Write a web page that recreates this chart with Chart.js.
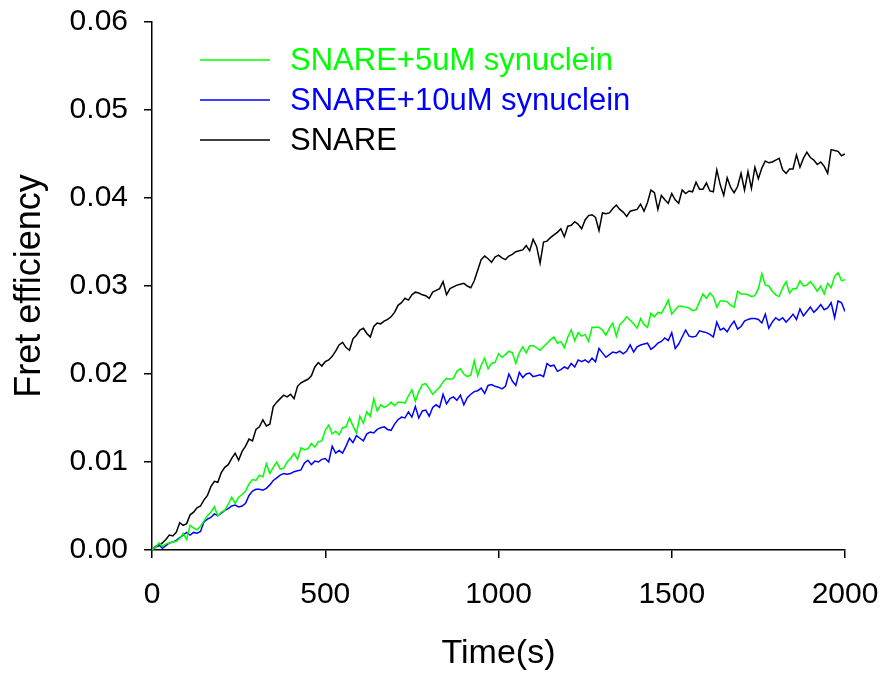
<!DOCTYPE html>
<html>
<head>
<meta charset="utf-8">
<script src="https://cdn.jsdelivr.net/npm/chart.js@4.4.0/dist/chart.umd.min.js"></script>
<style>
  html, body { margin: 0; padding: 0; background: #fff; }
  #wrap { width: 886px; height: 678px; }
</style>
</head>
<body>
<div id="wrap"><canvas id="canvas"></canvas></div>
<script>
/* time axis, one reading every 10 s */
var times = [0,
  10,20,30,40,50,60,70,80,90,100,
  110,120,130,140,150,160,170,180,190,200,
  210,220,230,240,250,260,270,280,290,300,
  310,320,330,340,350,360,370,380,390,400,
  410,420,430,440,450,460,470,480,490,500,
  510,520,530,540,550,560,570,580,590,600,
  610,620,630,640,650,660,670,680,690,700,
  710,720,730,740,750,760,770,780,790,800,
  810,820,830,840,850,860,870,880,890,900,
  910,920,930,940,950,960,970,980,990,1000,
  1010,1020,1030,1040,1050,1060,1070,1080,1090,1100,
  1110,1120,1130,1140,1150,1160,1170,1180,1190,1200,
  1210,1220,1230,1240,1250,1260,1270,1280,1290,1300,
  1310,1320,1330,1340,1350,1360,1370,1380,1390,1400,
  1410,1420,1430,1440,1450,1460,1470,1480,1490,1500,
  1510,1520,1530,1540,1550,1560,1570,1580,1590,1600,
  1610,1620,1630,1640,1650,1660,1670,1680,1690,1700,
  1710,1720,1730,1740,1750,1760,1770,1780,1790,1800,
  1810,1820,1830,1840,1850,1860,1870,1880,1890,1900,
  1910,1920,1930,1940,1950,1960,1970,1980,1990,2000];

/* SNARE+5uM synuclein */
var syn5 = [0,
  0.0003,0.0008,0.0004,0.0007,0.0008,0.0009,0.0010,0.0013,0.0019,0.0012,
  0.0028,0.0025,0.0023,0.0027,0.0033,0.0039,0.0043,0.0049,0.0039,0.0043,
  0.0045,0.0052,0.0060,0.0053,0.0060,0.0063,0.0067,0.0075,0.0080,0.0079,
  0.0085,0.0083,0.0098,0.0087,0.0094,0.0100,0.0092,0.0093,0.0100,0.0104,
  0.0110,0.0103,0.0116,0.0114,0.0115,0.0121,0.0117,0.0123,0.0124,0.0136,
  0.0142,0.0132,0.0135,0.0131,0.0139,0.0140,0.0150,0.0141,0.0133,0.0152,
  0.0144,0.0157,0.0152,0.0172,0.0158,0.0165,0.0162,0.0164,0.0168,0.0164,
  0.0168,0.0168,0.0167,0.0175,0.0182,0.0169,0.0180,0.0188,0.0189,0.0183,
  0.0177,0.0181,0.0185,0.0191,0.0195,0.0194,0.0195,0.0203,0.0206,0.0200,
  0.0197,0.0199,0.0215,0.0198,0.0210,0.0218,0.0206,0.0212,0.0213,0.0223,
  0.0219,0.0222,0.0226,0.0224,0.0212,0.0224,0.0231,0.0224,0.0232,0.0232,
  0.0230,0.0227,0.0231,0.0235,0.0239,0.0242,0.0235,0.0237,0.0230,0.0242,
  0.0250,0.0238,0.0247,0.0243,0.0245,0.0237,0.0253,0.0253,0.0253,0.0250,
  0.0244,0.0252,0.0258,0.0243,0.0256,0.0260,0.0265,0.0261,0.0257,0.0252,
  0.0263,0.0256,0.0253,0.0269,0.0265,0.0270,0.0269,0.0276,0.0284,0.0268,
  0.0273,0.0277,0.0277,0.0276,0.0275,0.0272,0.0273,0.0282,0.0291,0.0286,
  0.0292,0.0288,0.0276,0.0283,0.0283,0.0282,0.0278,0.0276,0.0294,0.0291,
  0.0291,0.0290,0.0288,0.0289,0.0297,0.0314,0.0301,0.0300,0.0294,0.0290,
  0.0288,0.0298,0.0305,0.0292,0.0297,0.0297,0.0306,0.0300,0.0301,0.0305,
  0.0300,0.0294,0.0300,0.0291,0.0303,0.0298,0.0311,0.0315,0.0306,0.0307];

/* SNARE+10uM synuclein */
var syn10 = [0,
  0.0004,0.0006,0.0002,0.0005,0.0008,0.0009,0.0011,0.0014,0.0017,0.0020,
  0.0017,0.0020,0.0019,0.0021,0.0032,0.0035,0.0037,0.0041,0.0039,0.0042,
  0.0045,0.0047,0.0050,0.0051,0.0049,0.0050,0.0053,0.0062,0.0067,0.0069,
  0.0069,0.0068,0.0070,0.0074,0.0079,0.0082,0.0085,0.0087,0.0086,0.0087,
  0.0089,0.0090,0.0091,0.0099,0.0102,0.0097,0.0101,0.0100,0.0103,0.0104,
  0.0100,0.0118,0.0110,0.0113,0.0110,0.0118,0.0127,0.0122,0.0130,0.0127,
  0.0124,0.0132,0.0134,0.0133,0.0137,0.0139,0.0140,0.0137,0.0136,0.0143,
  0.0148,0.0151,0.0150,0.0157,0.0151,0.0163,0.0150,0.0158,0.0159,0.0152,
  0.0162,0.0165,0.0162,0.0177,0.0166,0.0172,0.0174,0.0170,0.0176,0.0165,
  0.0173,0.0177,0.0180,0.0181,0.0184,0.0178,0.0187,0.0188,0.0186,0.0185,
  0.0183,0.0186,0.0200,0.0192,0.0187,0.0202,0.0196,0.0200,0.0201,0.0197,
  0.0198,0.0199,0.0197,0.0212,0.0209,0.0210,0.0203,0.0205,0.0208,0.0206,
  0.0212,0.0208,0.0216,0.0214,0.0216,0.0213,0.0218,0.0214,0.0229,0.0224,
  0.0219,0.0222,0.0225,0.0224,0.0226,0.0223,0.0226,0.0233,0.0225,0.0231,
  0.0233,0.0234,0.0235,0.0228,0.0231,0.0235,0.0237,0.0241,0.0238,0.0247,
  0.0229,0.0234,0.0242,0.0250,0.0243,0.0242,0.0243,0.0249,0.0248,0.0247,
  0.0245,0.0242,0.0259,0.0250,0.0252,0.0248,0.0255,0.0260,0.0251,0.0254,
  0.0260,0.0262,0.0263,0.0263,0.0262,0.0258,0.0268,0.0252,0.0259,0.0264,
  0.0261,0.0264,0.0259,0.0263,0.0268,0.0262,0.0274,0.0266,0.0271,0.0276,
  0.0270,0.0274,0.0279,0.0273,0.0275,0.0281,0.0264,0.0283,0.0281,0.0271];

/* SNARE */
var snare = [0,
  0.0003,0.0005,0.0008,0.0012,0.0017,0.0016,0.0020,0.0031,0.0028,0.0030,
  0.0040,0.0043,0.0048,0.0050,0.0057,0.0062,0.0072,0.0078,0.0077,0.0088,
  0.0094,0.0097,0.0104,0.0110,0.0102,0.0112,0.0118,0.0126,0.0124,0.0137,
  0.0140,0.0148,0.0141,0.0143,0.0163,0.0168,0.0172,0.0176,0.0174,0.0177,
  0.0172,0.0186,0.0190,0.0192,0.0194,0.0198,0.0208,0.0213,0.0209,0.0214,
  0.0216,0.0220,0.0226,0.0233,0.0236,0.0230,0.0227,0.0240,0.0244,0.0250,
  0.0252,0.0246,0.0242,0.0254,0.0258,0.0257,0.0260,0.0262,0.0265,0.0270,
  0.0278,0.0281,0.0286,0.0284,0.0290,0.0293,0.0292,0.0290,0.0289,0.0286,
  0.0293,0.0295,0.0297,0.0305,0.0290,0.0297,0.0299,0.0301,0.0302,0.0303,
  0.0300,0.0298,0.0306,0.0318,0.0330,0.0334,0.0331,0.0327,0.0333,0.0335,
  0.0332,0.0330,0.0334,0.0336,0.0339,0.0340,0.0341,0.0346,0.0340,0.0353,
  0.0345,0.0326,0.0350,0.0351,0.0355,0.0358,0.0361,0.0365,0.0356,0.0368,
  0.0369,0.0373,0.0370,0.0365,0.0375,0.0380,0.0381,0.0378,0.0363,0.0383,
  0.0382,0.0383,0.0388,0.0392,0.0387,0.0384,0.0379,0.0385,0.0386,0.0387,
  0.0393,0.0385,0.0395,0.0409,0.0406,0.0387,0.0403,0.0398,0.0394,0.0405,
  0.0398,0.0394,0.0409,0.0405,0.0408,0.0407,0.0418,0.0410,0.0410,0.0417,
  0.0408,0.0407,0.0432,0.0415,0.0403,0.0423,0.0412,0.0406,0.0413,0.0428,
  0.0409,0.0430,0.0411,0.0435,0.0422,0.0434,0.0442,0.0440,0.0441,0.0443,
  0.0445,0.0432,0.0428,0.0433,0.0433,0.0449,0.0435,0.0445,0.0452,0.0446,
  0.0443,0.0438,0.0441,0.0436,0.0428,0.0455,0.0454,0.0453,0.0448,0.0450];

var xTicks = [0, 500, 1000, 1500, 2000];
var yTicks = [0, 0.01, 0.02, 0.03, 0.04, 0.05, 0.06];

function points(ys) {
    return times.map(function(t, i){ return {x: t, y: ys[i]}; });
}

var FONT = "'Liberation Sans', Arial, sans-serif";

/* legend inside the plot, top left */
var innerLegend = {
    id: 'innerLegend',
    afterDraw: function(chart) {
        var ctx = chart.ctx;
        var a = chart.chartArea;
        ctx.save();
        ctx.font = '31px ' + FONT;
        ctx.textBaseline = 'middle';
        chart.data.datasets.forEach(function(ds, i){
            var y = a.top + 38 + i * 40;
            ctx.strokeStyle = ds.borderColor;
            ctx.lineWidth = 1.5;
            ctx.beginPath();
            ctx.moveTo(a.left + 48, y);
            ctx.lineTo(a.left + 118, y);
            ctx.stroke();
            ctx.fillStyle = ds.borderColor;
            ctx.fillText(ds.label, a.left + 138, y + 1);
        });
        ctx.restore();
    }
};

const ctx = document.getElementById('canvas');
new Chart(ctx, {
    type: 'line',
    data: {
        datasets: [{
            label: 'SNARE+5uM synuclein',
            data: points(syn5),
            borderColor: '#00ff00',
            borderWidth: 1.5
        },
        {
            label: 'SNARE+10uM synuclein',
            data: points(syn10),
            borderColor: '#0000ff',
            borderWidth: 1.5
        },
        {
            label: 'SNARE',
            data: points(snare),
            borderColor: '#000000',
            borderWidth: 1.5
        }]
    },
    options: {
        responsive: true,
        maintainAspectRatio: false,
        animation: false,
        layout: { padding: { top: 22, right: 41, left: 0, bottom: 0 } },
        elements: {
            point: { radius: 0 },
            line: { tension: 0 }
        },
        plugins: {
            legend: { display: false },
            tooltip: { enabled: false }
        },
        scales: {
            x: {
                type: 'linear',
                min: 0,
                max: 2000,
                afterBuildTicks: function(s){ s.ticks = xTicks.map(function(v){ return {value: v}; }); },
                afterFit: function(s){
                    s.height = 128;
                    s.paddingLeft = 0;
                    s.paddingRight = 0;
                },
                border: { display: true, color: '#000', width: 1.5 },
                grid: { display: true, drawOnChartArea: false, drawTicks: true, tickLength: 8, color: '#000', lineWidth: 1.5 },
                ticks: {
                    color: '#000',
                    font: { family: FONT, size: 30 },
                    padding: 19,
                    maxRotation: 0,
                    callback: function(v){ return String(v); }
                },
                title: { display: true, text: 'Time(s)', color: '#000', font: { family: FONT, size: 34 }, padding: { top: 10 } }
            },
            y: {
                min: 0,
                max: 0.06,
                afterBuildTicks: function(s){ s.ticks = yTicks.map(function(v){ return {value: v}; }); },
                afterFit: function(s){
                    s.width = 152;
                    s.paddingTop = 0;
                    s.paddingBottom = 0;
                },
                border: { display: true, color: '#000', width: 1.5 },
                grid: { display: true, drawOnChartArea: false, drawTicks: true, tickLength: 8, color: '#000', lineWidth: 1.5 },
                ticks: {
                    color: '#000',
                    font: { family: FONT, size: 30 },
                    padding: 16,
                    callback: function(v){ return v.toFixed(2); }
                },
                title: { display: true, text: 'Fret efficiency', color: '#000', font: { family: FONT, size: 36 }, padding: { top: 8, bottom: 4 } }
            }
        }
    },
    plugins: [innerLegend]
});
</script>
</body>
</html>
